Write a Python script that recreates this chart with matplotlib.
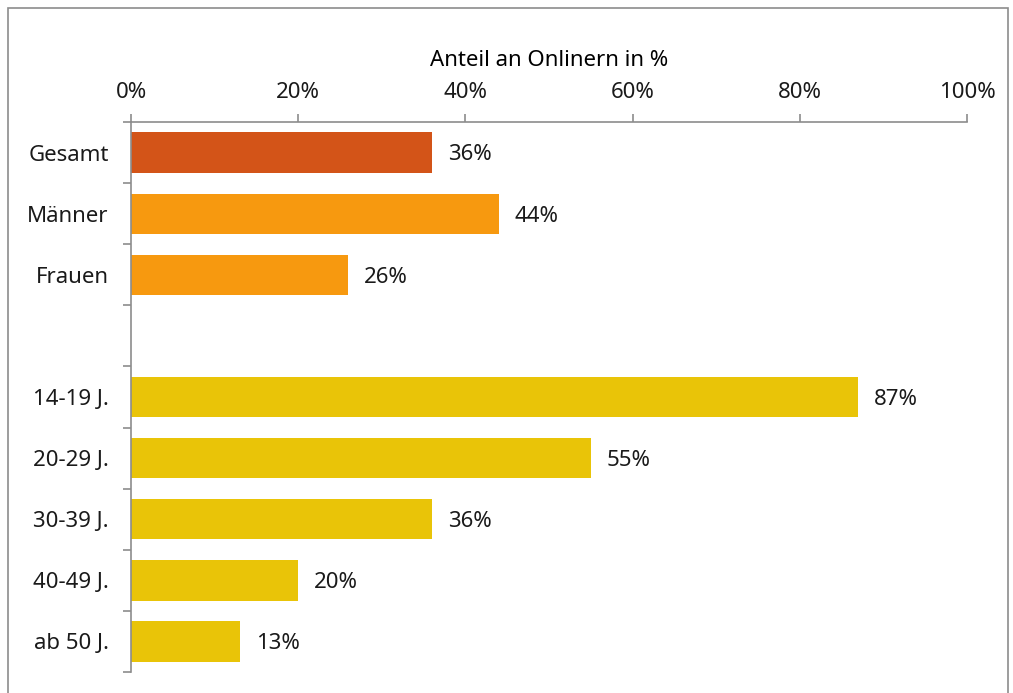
import numpy as np
import matplotlib
matplotlib.use('Agg')
import matplotlib.pyplot as plt
from matplotlib.patches import Rectangle

plt.rcParams['font.family'] = ['Noto Sans', 'DejaVu Sans']

categories = ['Gesamt', 'Männer', 'Frauen', '', '14-19 J.', '20-29 J.', '30-39 J.', '40-49 J.', 'ab 50 J.']
values = [36, 44, 26, None, 87, 55, 36, 20, 13]
bar_colors = ['#D35418', '#F7990F', '#F7990F', None, '#E9C408', '#E9C408', '#E9C408', '#E9C408', '#E9C408']
xticks = [0, 20, 40, 60, 80, 100]

fs = 16

fig = plt.figure(figsize=(10.13, 6.93), dpi=100)
fig.patches.append(Rectangle((8 / 1013, -0.1), 1000 / 1013, 1.1 - 8 / 693, transform=fig.transFigure,
                             fill=False, edgecolor='#8c8c8c', linewidth=1.2))
ax = fig.add_axes([131 / 1013, 21 / 693, 836 / 1013, 550 / 693])

y = np.arange(len(categories))
for i, (v, c) in enumerate(zip(values, bar_colors)):
    if v is None:
        continue
    ax.barh(y[i], v, height=0.66, color=c)
    ax.text(v + 1.9, y[i] + 0.04, f'{v}%', va='center', ha='left', fontsize=fs, color='#1a1a1a')

ax.set_xlim(0, 100)
ax.set_ylim(len(categories) - 0.5, -0.5)
ax.xaxis.tick_top()
ax.xaxis.set_label_position('top')
ax.set_xticks(xticks)
ax.set_xticklabels([f'{t}%' for t in xticks], fontsize=fs, color='#1a1a1a')
ax.set_xlabel('Anteil an Onlinern in %', fontsize=fs, color='#000000', labelpad=11)

ax.set_yticks(y)
ax.set_yticklabels(categories, fontsize=fs, color='#1a1a1a')
ax.set_yticks(np.arange(len(categories) + 1) - 0.5, minor=True)
ax.tick_params(axis='y', which='major', length=0, pad=16)
ax.tick_params(axis='y', which='minor', length=6, color='#8c8c8c', width=1.2)
ax.tick_params(axis='x', length=6, color='#8c8c8c', width=1.2, pad=8)

for s in ['right', 'bottom']:
    ax.spines[s].set_visible(False)
for s in ['top', 'left']:
    ax.spines[s].set_color('#8c8c8c')
    ax.spines[s].set_linewidth(1.2)

fig.savefig('out.png', dpi=100)
